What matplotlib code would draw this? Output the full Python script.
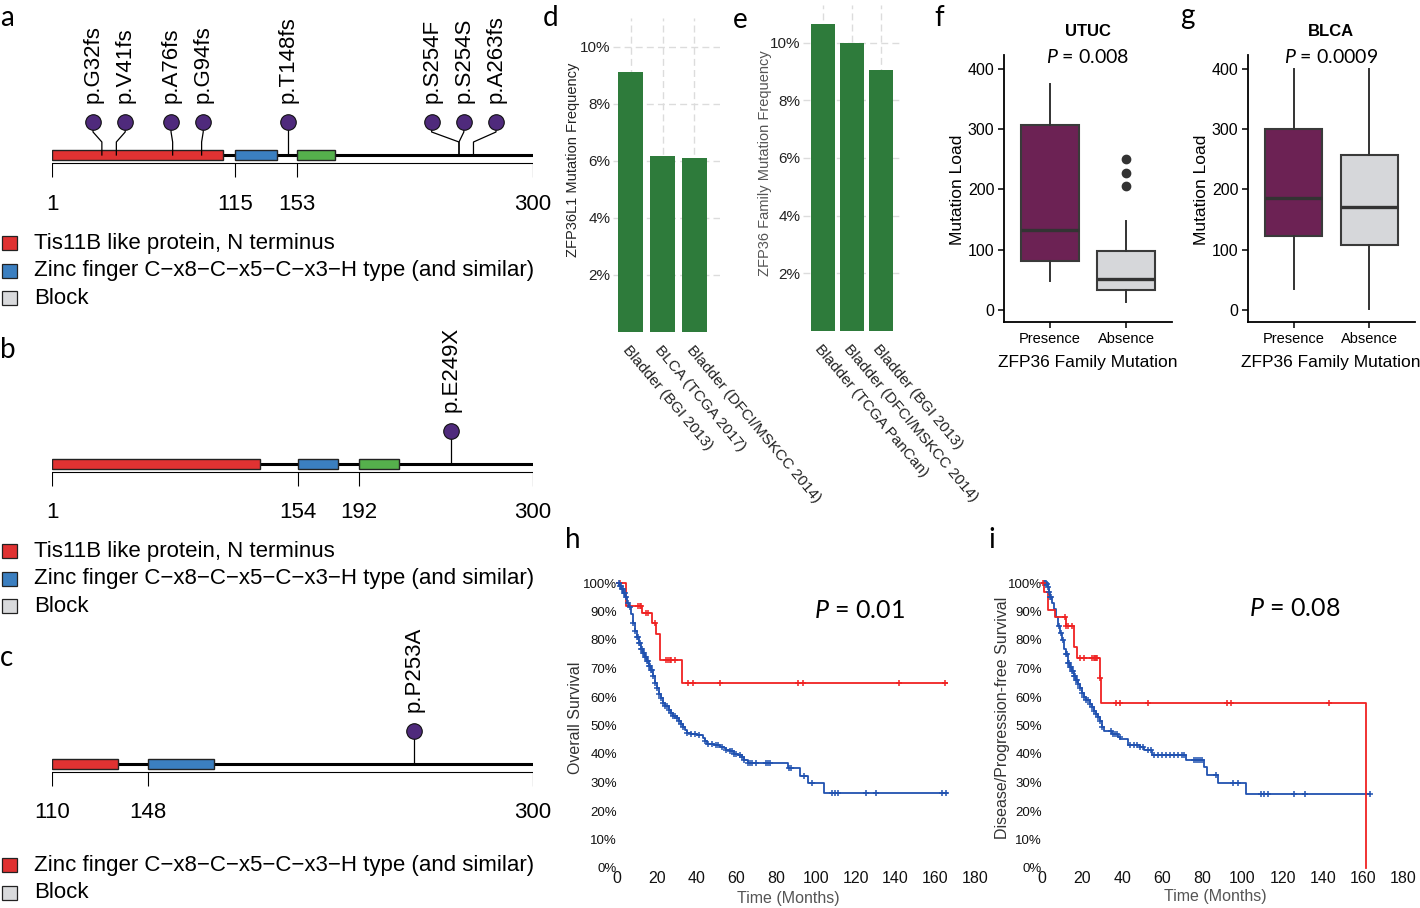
import numpy as np
import matplotlib
matplotlib.use('Agg')
import matplotlib.pyplot as plt
from matplotlib.patches import Rectangle

# ---------------- data ----------------
# panel a
a_range = (1, 300)
a_dom_start = [1, 115, 153]
a_dom_end = [107, 141, 177]
a_dom_kind = ['tis', 'zinc', 'other']
a_mut_pos = [32, 41, 76, 94, 148, 254, 254, 263]
a_mut_lab = ['p.G32fs', 'p.V41fs', 'p.A76fs', 'p.G94fs', 'p.T148fs', 'p.S254F', 'p.S254S', 'p.A263fs']
a_ticks = [1, 115, 153, 300]
# panel b
b_range = (1, 300)
b_dom_start = [1, 154, 192]
b_dom_end = [130, 179, 217]
b_dom_kind = ['tis', 'zinc', 'other']
b_mut_pos = [249]
b_mut_lab = ['p.E249X']
b_ticks = [1, 154, 192, 300]
# panel c
c_range = (110, 300)
c_dom_start = [110, 148]
c_dom_end = [136, 174]
c_dom_kind = ['tis', 'zinc']
c_mut_pos = [253]
c_mut_lab = ['p.P253A']
c_ticks = [110, 148, 300]

legend_ab = ['Tis11B like protein, N terminus',
             'Zinc finger C\u2212x8\u2212C\u2212x5\u2212C\u2212x3\u2212H type (and similar)',
             'Block']
legend_c = ['Zinc finger C\u2212x8\u2212C\u2212x5\u2212C\u2212x3\u2212H type (and similar)', 'Block']

# panel d / e
d_categories = ['Bladder (BGI 2013)', 'BLCA (TCGA 2017)', 'Bladder (DFCI/MSKCC 2014)']
d_values = [9.1, 6.15, 6.1]
e_categories = ['Bladder (TCGA PanCan)', 'Bladder (DFCI/MSKCC 2014)', 'Bladder (BGI 2013)']
e_values = [10.65, 10.0, 9.05]
pct_ticks = [2, 4, 6, 8, 10]

# panel f / g  (box statistics)
box_groups = ['Presence', 'Absence']
f_whislo = [48, 13]
f_q1 = [82, 33]
f_med = [133, 51]
f_q3 = [307, 97]
f_whishi = [375, 147]
f_fliers = [[], [205, 227, 251]]
g_whislo = [34, 1]
g_q1 = [122, 108]
g_med = [185, 171]
g_q3 = [300, 257]
g_whishi = [400, 399]
g_fliers = [[], []]
load_ticks = [0, 100, 200, 300, 400]

# panel h (overall survival)
h_mut_t = [0, 4.7, 12.8, 17.8, 19.8, 21.5, 32.9]
h_mut_s = [100, 92, 89.5, 86, 82, 73, 65]
h_mut_end = 166
h_mut_cens = [1.3, 10.5, 11.5, 12.2, 14.8, 15.6, 19, 24.5, 25.5, 26.5, 27, 29,
              35.7, 38.3, 52, 91, 93.6, 141.8, 165]
h_wt_t = [0, 1, 2, 3, 4, 5, 6, 7, 8, 9, 10, 11, 12, 13, 14, 15, 16, 17, 18, 19, 20,
          21, 22, 23, 24, 26, 27, 28, 30, 31, 32, 33, 34, 35, 37, 40, 43, 44, 45, 49,
          52, 54, 55, 57, 59, 61, 63, 64, 66, 86, 92, 96, 104]
h_wt_s = [100, 99, 98, 96.5, 95, 93, 91.5, 89, 86, 83, 81, 79, 77, 75.5, 74, 72.5, 71,
          69.5, 67.5, 65, 63, 61, 59.5, 58, 57, 55.5, 54.5, 53.5, 52.5, 51.5, 50.5, 49.5,
          48.5, 47.5, 47, 46.5, 45.5, 44.5, 43.5, 43, 42.5, 42, 41.5, 41, 40, 39.5, 39,
          38, 37, 35, 32.3, 29.7, 26.2]
h_wt_end = 166
h_wt_cens = [0.8, 1.3, 1.8, 2.3, 2.8, 3.3, 3.8, 4.5, 5.5, 6.5, 8, 9, 10, 10.5, 11, 11.5,
             12, 12.5, 13, 13.5, 14, 14.5, 15, 15.5, 16, 16.5, 17, 17.5, 18, 19, 20, 21,
             22, 23, 24, 25, 26, 27, 28, 29, 30, 31, 32, 33, 35, 37, 39, 41, 44, 46, 48,
             50, 51, 53, 55, 57, 58, 59, 60, 62, 63, 64, 66, 67, 68, 70, 75, 76, 77,
             86.5, 87.5, 94, 98, 108, 109.5, 111, 125, 130, 163.5, 165.5]

# panel i (disease/progression-free survival)
i_mut_t = [0, 1, 3, 6.3, 12, 16, 17.5, 28.8, 29.6, 161.7]
i_mut_s = [100, 97, 90.5, 88, 85, 77.5, 73.7, 66.5, 58, 0]
i_mut_end = 161.7
i_mut_cens = [0.5, 11.5, 12, 13, 15, 18.8, 21, 25, 26, 26.5, 27, 27.5, 28.8, 36.7, 39,
              52.8, 92, 94.4, 143]
i_wt_t = [0, 2.5, 3, 3.5, 4, 5, 6, 7, 8, 9, 10, 11, 12, 13, 14, 15, 16, 17, 18, 19, 20,
          21, 22, 24, 25, 26, 27, 28, 29, 30, 31, 35, 38, 39, 43, 49, 51, 55, 72, 81,
          82.5, 88, 101.5]
i_wt_s = [100, 99.5, 98.5, 97, 95, 93, 91, 88, 85, 82.5, 80, 77, 75, 72, 70.5, 69,
          67.5, 66, 64.5, 63, 61.5, 60, 59, 57.5, 56.5, 55, 54, 53, 51.5, 49.5, 48, 47,
          46, 45.2, 43.2, 42.5, 41.5, 39.8, 38, 35.5, 32.8, 29.8, 26.1]
i_wt_end = 163.7
i_wt_cens = [1, 1.5, 2, 2.5, 3, 3.5, 4, 4.5, 8.5, 9.5, 10.5, 12, 12.5, 13, 13.5, 14,
             14.5, 15, 15.5, 16, 16.5, 17, 17.5, 18, 19, 20, 21, 22, 23, 24, 25, 26, 27,
             28, 29, 30, 34.6, 35.5, 36.5, 37.5, 38.7, 44, 46, 47.5, 49, 50.5, 53, 54.5,
             56, 58, 60, 62, 64, 66, 68, 70, 71, 76, 77, 78, 79, 80, 87, 95, 97.7, 109,
             110.5, 112.7, 125.6, 131, 163.7]
time_ticks = [0, 20, 40, 60, 80, 100, 120, 140, 160, 180]
surv_ticks = [0, 10, 20, 30, 40, 50, 60, 70, 80, 90, 100]

# ---------------- style ----------------
W, H = 1420, 908
SANS = ['Liberation Sans', 'DejaVu Sans']
HUM = ['Lato', 'DejaVu Sans']
plt.rcParams['font.family'] = SANS
plt.rcParams['mathtext.fontset'] = 'custom'
plt.rcParams['mathtext.it'] = 'Lato:italic'
plt.rcParams['mathtext.rm'] = 'Lato'

DOM_COL = {'tis': '#e03232', 'zinc': '#3b7fc0', 'other': '#55b04c'}
LEG_COL = ['#e03232', '#3b7fc0', '#d9dadc']
LEG_COL_C = ['#e03232', '#d9dadc']
HEAD_COL = '#4f2a7c'
BAR_COL = '#2e7b3b'
PRES_COL = '#6c2254'
ABS_COL = '#d6d7da'
RED = '#f02222'
BLUE = '#2152b0'

fig = plt.figure(figsize=(W / 100, H / 100), dpi=100)


def px_axes(x0, y0, x1, y1, **kw):
    return fig.add_axes([x0 / W, 1 - y1 / H, (x1 - x0) / W, (y1 - y0) / H], **kw)


def spread(pos, min_sep):
    x = np.array(pos, float)
    for _ in range(500):
        moved = False
        for k in range(len(x) - 1):
            d = x[k + 1] - x[k]
            if d < min_sep - 1e-6:
                sh = (min_sep - d) / 2
                x[k] -= sh
                x[k + 1] += sh
                moved = True
        if not moved:
            break
    return x


def lolli(backbone_px, rng, ds, de, dk, mpos, mlab, ticks, min_sep):
    ax = px_axes(52, backbone_px - 155, 533, backbone_px + 165)
    ax.set_xlim(rng[0], rng[1])
    ax.set_ylim(-165, 155)
    ax.axis('off')
    ax.plot([rng[0], rng[1]], [0, 0], color='black', lw=2.2, solid_capstyle='butt', zorder=1)
    for s, e, k in zip(ds, de, dk):
        ax.add_patch(Rectangle((s, -5), e - s, 10, facecolor=DOM_COL[k],
                               edgecolor='#222222', lw=1.0, zorder=2))
    ax.plot([rng[0], rng[1]], [-8, -8], color='black', lw=0.8)
    ax.vlines(ticks, -22, -8, color='black', lw=0.8)
    for t in ticks:
        ax.text(t, -49, str(t), ha='center', va='center', fontsize=16)
    heads = spread(mpos, min_sep)
    for p, h in zip(mpos, heads):
        ax.plot([p, p, h, h], [0, 13, 23, 33], color='black', lw=0.9, zorder=3)
    ax.scatter(heads, [33] * len(heads), s=125, color=HEAD_COL, edgecolor='#111111',
               linewidths=0.8, zorder=4)
    for h, lab in zip(heads, mlab):
        ax.text(h, 52, lab, rotation=90, ha='center', va='bottom', fontsize=16)
    return ax


lolli(155, a_range, a_dom_start, a_dom_end, a_dom_kind, a_mut_pos, a_mut_lab, a_ticks, 20)
lolli(464, b_range, b_dom_start, b_dom_end, b_dom_kind, b_mut_pos, b_mut_lab, b_ticks, 20)
lolli(764, c_range, c_dom_start, c_dom_end, c_dom_kind, c_mut_pos, c_mut_lab, c_ticks, 20)

# ---------------- bars ----------------
axd = px_axes(613, 18, 720, 332)
xd = np.arange(len(d_values))
axd.bar(xd, d_values, width=0.78, color=BAR_COL, zorder=2)
axd.set_xlim(-0.55, 2.8)
axd.set_ylim(0, 11.0)

axe = px_axes(803, 5, 903, 331)
xe = np.arange(len(e_values))
axe.bar(xe, e_values, width=0.83, color=BAR_COL, zorder=2)
axe.set_xlim(-0.69, 2.76)
axe.set_ylim(0, 11.3)

for ax, cats, xx in [(axd, d_categories, xd), (axe, e_categories, xe)]:
    for sp in ax.spines.values():
        sp.set_visible(False)
    ax.set_yticks(pct_ticks)
    ax.set_yticklabels([f'{v}%' for v in pct_ticks], fontsize=11, color='#222222')
    ax.set_xticks(xx)
    ax.set_xticklabels(cats, rotation=-50, ha='left', va='top', rotation_mode='anchor',
                       fontsize=11, color='#222222')
    ax.tick_params(length=0, pad=2)
    ax.tick_params(axis='x', pad=8)
    ax.grid(True, color='#dcdcdc', lw=1.0, ls=(0, (5, 3)), zorder=0)
    ax.set_axisbelow(True)
    ax.patch.set_visible(False)


# ---------------- boxes ----------------
def boxes(x0, x1, wl, q1, md, q3, wh, fl):
    ax = px_axes(x0, 55, x1, 322)
    stats = []
    for k in range(len(box_groups)):
        stats.append(dict(whislo=wl[k], q1=q1[k], med=md[k], q3=q3[k], whishi=wh[k],
                          fliers=fl[k], label=box_groups[k]))
    bp = ax.bxp(stats, positions=[1, 2], widths=0.76, patch_artist=True, showcaps=False,
                boxprops=dict(edgecolor='#3a3a3a', lw=1.5),
                medianprops=dict(color='#333333', lw=2.4),
                whiskerprops=dict(color='#333333', lw=1.4),
                flierprops=dict(marker='o', markerfacecolor='#333333',
                                markeredgecolor='#333333', markersize=6))
    for patch, col in zip(bp['boxes'], [PRES_COL, ABS_COL]):
        patch.set_facecolor(col)
    ax.set_xlim(0.4, 2.6)
    ax.set_ylim(-20, 423)
    ax.spines['top'].set_visible(False)
    ax.spines['right'].set_visible(False)
    ax.spines['left'].set_linewidth(1.3)
    ax.spines['bottom'].set_linewidth(1.3)
    ax.set_yticks(load_ticks)
    ax.set_yticklabels([str(v) for v in load_ticks], fontsize=11.5)
    ax.set_xticklabels(box_groups, fontsize=10.5)
    ax.tick_params(length=4, width=1.1, pad=3)
    ax.patch.set_visible(False)
    return ax


boxes(1004, 1172, f_whislo, f_q1, f_med, f_q3, f_whishi, f_fliers)
boxes(1248, 1415, g_whislo, g_q1, g_med, g_q3, g_whishi, g_fliers)


# ---------------- KM ----------------
def surv_at(t_arr, s_arr, t):
    t_arr = np.asarray(t_arr)
    s_arr = np.asarray(s_arr)
    idx = np.searchsorted(t_arr, t, side='right') - 1
    return s_arr[np.clip(idx, 0, len(s_arr) - 1)]


def km(x0, x1, curves):
    ax = px_axes(x0, 583, x1, 868)
    ax.set_xlim(0, 180)
    ax.set_ylim(0, 100)
    for t, s, end, cens, col in curves:
        tt = list(t) + ([end] if end > t[-1] else [])
        ss = list(s) + ([s[-1]] if end > t[-1] else [])
        ax.step(tt, ss, where='post', color=col, lw=1.3, clip_on=False, zorder=3)
        cy = surv_at(t, s, cens)
        ax.plot(cens, cy, ls='none', marker='+', color=col, ms=5, mew=1.1,
                clip_on=False, zorder=4)
    for sp in ax.spines.values():
        sp.set_visible(False)
    ax.set_xticks(time_ticks)
    ax.set_xticklabels([str(v) for v in time_ticks], fontsize=11.5, color='#111111')
    ax.set_yticks(surv_ticks)
    ax.set_yticklabels([f'{v}%' for v in surv_ticks], fontsize=9.5, color='#111111')
    ax.tick_params(length=0)
    ax.tick_params(axis='y', pad=0)
    ax.tick_params(axis='x', pad=2)
    ax.patch.set_visible(False)
    return ax


km(617, 975, [(h_mut_t, h_mut_s, h_mut_end, h_mut_cens, RED),
              (h_wt_t, h_wt_s, h_wt_end, h_wt_cens, BLUE)])
km(1042, 1403, [(i_wt_t, i_wt_s, i_wt_end, i_wt_cens, BLUE),
                (i_mut_t, i_mut_s, i_mut_end, i_mut_cens, RED)])

# ---------------- overlay text ----------------
ov = px_axes(0, 0, W, H)
ov.set_xlim(0, W)
ov.set_ylim(H, 0)
ov.axis('off')
ov.patch.set_visible(False)

for lab, x, y in [('a', 0, 18), ('b', 0, 350), ('c', 0, 658), ('d', 543, 18), ('e', 733, 20),
                  ('f', 934, 18), ('g', 1180, 16), ('h', 565, 540), ('i', 988, 540)]:
    ov.text(x, y, lab, fontsize=20, family=HUM, ha='left', va='center')


def legend(y0, labels, cols):
    for k, (lab, col) in enumerate(zip(labels, cols)):
        y = y0 + k * 27.5
        ov.add_patch(Rectangle((2, y - 7), 15, 14, facecolor=col, edgecolor='#222222', lw=0.9))
        ov.text(34, y, lab, fontsize=16, ha='left', va='center')


legend(243, legend_ab, LEG_COL)
legend(551, legend_ab, LEG_COL)
legend(865, legend_c, LEG_COL_C)

ov.text(573, 160, 'ZFP36L1 Mutation Frequency', rotation=90, fontsize=10.5, ha='center',
        va='center', color='#222222')
ov.text(765, 163, 'ZFP36 Family Mutation Frequency', rotation=90, fontsize=10.5,
        ha='center', va='center', color='#555555')

for cx, title, pv in [(1088, 'UTUC', '$P$ = 0.008'), (1331, 'BLCA', '$P$ = 0.0009')]:
    ov.text(cx, 31, title, fontsize=12, weight='bold', ha='center', va='center')
    ov.text(cx, 57, pv, fontsize=14, family=HUM, ha='center', va='center')
    ov.text(cx, 362, 'ZFP36 Family Mutation', fontsize=12.5, ha='center', va='center')
for cx in [957, 1201]:
    ov.text(cx, 190, 'Mutation Load', rotation=90, fontsize=12.5, ha='center', va='center')

ov.text(859, 611, '$P$ = 0.01', fontsize=18, family=HUM, ha='center', va='center')
ov.text(1295, 608, '$P$ = 0.08', fontsize=18, family=HUM, ha='center', va='center')
ov.text(576, 718, 'Overall Survival', rotation=90, fontsize=11.5, ha='center', va='center',
        color='#333333')
ov.text(1003, 718, 'Disease/Progression-free Survival', rotation=90, fontsize=11.5,
        ha='center', va='center', color='#333333')
ov.text(788, 899, 'Time (Months)', fontsize=11.5, ha='center', va='center', color='#555555')
ov.text(1215, 897, 'Time (Months)', fontsize=11.5, ha='center', va='center', color='#555555')

fig.savefig('out.png', dpi=100)
